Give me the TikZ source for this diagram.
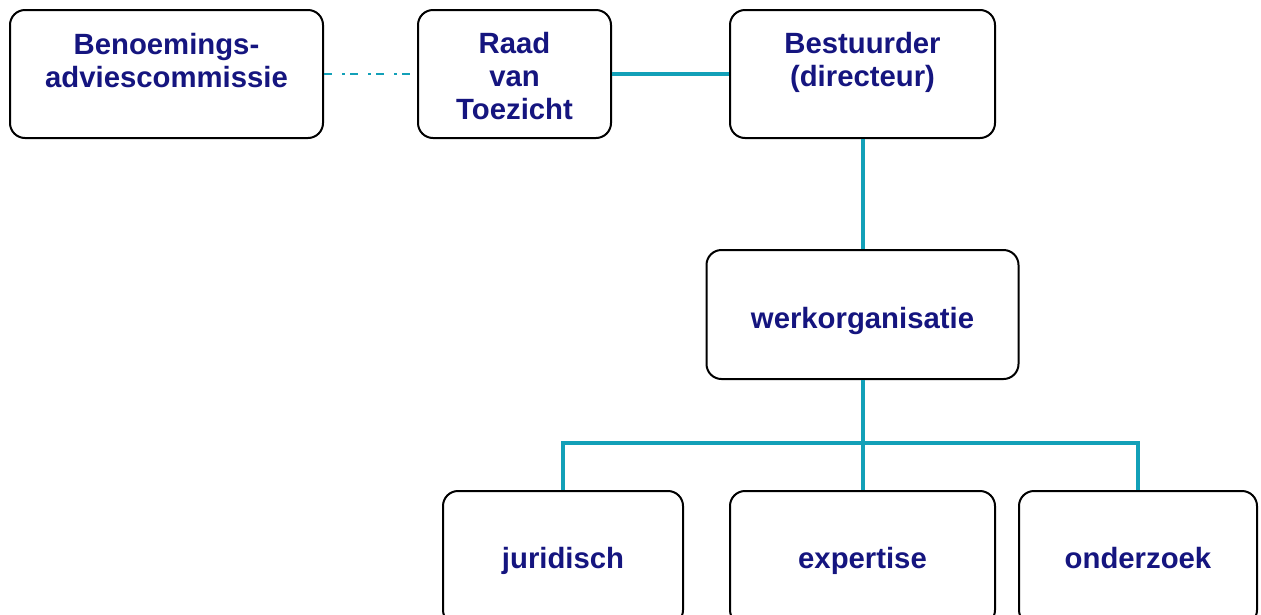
\documentclass[tikz,border=0pt]{standalone}
\usepackage{fontspec}
\setmainfont{Liberation Sans}
\definecolor{teal1}{HTML}{12A0B8}
\definecolor{navy1}{HTML}{15157F}
\begin{document}
\begin{tikzpicture}[x=1pt,y=-1pt,
  box/.style={draw=black, line width=2pt, rounded corners=15pt, rectangle, inner sep=0pt, fill=white},
  lbl/.style={anchor=base, inner sep=0pt, text=navy1, font=\bfseries\fontsize{29.3}{33}\selectfont},
  conn/.style={draw=teal1, line width=4pt},
  dconn/.style={draw=teal1, line width=2.5pt, dash pattern=on 8pt off 10pt on 3pt off 5pt}]
\useasboundingbox (0,0) rectangle (1261,614);
% boxes
\node[box, minimum width=313pt, minimum height=128pt] (ben) at (166.5,74) {};
\node[box, minimum width=193pt, minimum height=128pt] (raad) at (514.5,74) {};
\node[box, minimum width=265pt, minimum height=128pt] (best) at (862.5,74) {};
\node[box, minimum width=312pt, minimum height=129pt] (werk) at (862.5,314.5) {};
\node[box, minimum width=240pt, minimum height=134pt] (jur) at (563,558) {};
\node[box, minimum width=265pt, minimum height=134pt] (exp) at (862.5,558) {};
\node[box, minimum width=238pt, minimum height=134pt] (ond) at (1138,558) {};
% connectors
\draw[dconn] (ben.east) -- (raad.west);
\draw[conn] (raad.east) -- (best.west);
\draw[conn] (best.south) -- (werk.north);
\coordinate (bar) at (862.5,443);
\draw[conn] (werk.south) -- (bar);
\draw[conn] (jur.north) |- (bar) -| (ond.north);
\draw[conn] (bar) -- (exp.north);
% labels
\node[lbl] (ben1) at (166.5,54) {Benoemings-};
\node[lbl] (ben2) at (166.5,87) {adviescommissie};
\node[lbl] (raad1) at (514.5,53.5) {Raad};
\node[lbl] (raad2) at (514.5,86.5) {van};
\node[lbl] (raad3) at (514.5,119.5) {Toezicht};
\node[lbl] (best1) at (862.5,53.5) {Bestuurder};
\node[lbl] (best2) at (862.5,86.5) {(directeur)};
\node[lbl] (werkl) at (862.5,328) {werkorganisatie};
\node[lbl] (jurl) at (563,568) {juridisch};
\node[lbl] (expl) at (862.5,568) {expertise};
\node[lbl] (ondl) at (1138,568) {onderzoek};
\end{tikzpicture}
\end{document}
